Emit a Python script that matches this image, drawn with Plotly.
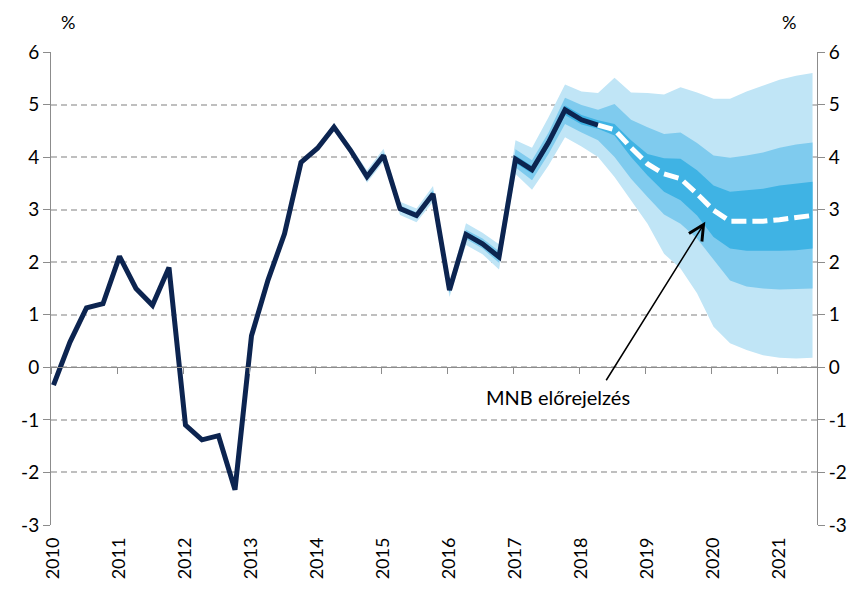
import plotly.graph_objects as go

# ---------------- data ----------------
years = ["2010", "2011", "2012", "2013", "2014", "2015",
         "2016", "2017", "2018", "2019", "2020", "2021"]
y_ticks = [-3, -2, -1, 0, 1, 2, 3, 4, 5, 6]
y_tick_text = ["-3", "-2", "-1", "0", "1", "2", "3", "4", "5", "6"]

# quarterly GDP growth (%), 2010Q1 .. 2018Q2
actual = [-0.34, 0.48, 1.13, 1.21, 2.11, 1.50, 1.18, 1.90,
          -1.10, -1.38, -1.30, -2.33, 0.60, 1.66, 2.54, 3.90,
          4.17, 4.57, 4.13, 3.63, 4.03, 3.02, 2.89, 3.30,
          1.47, 2.53, 2.35, 2.10, 3.96, 3.76, 4.28, 4.90,
          4.71, 4.61]

# MNB forecast (central path), 2018Q2 .. 2021Q3
forecast = [4.61, 4.52, 4.18, 3.87, 3.68, 3.59, 3.30, 2.99,
            2.78, 2.78, 2.78, 2.81, 2.85, 2.89]

# fan chart bands, 2014Q1 .. 2021Q3
light_up = [4.21, 4.65, 4.21, 3.75, 4.16, 3.15, 3.02, 3.45, 1.60, 2.74, 2.56, 2.34,
            4.32, 4.18, 4.76, 5.38, 5.25, 5.22, 5.51, 5.23, 5.22, 5.19, 5.33, 5.23,
            5.11, 5.11, 5.25, 5.36, 5.47, 5.55, 5.60]
light_lo = [4.13, 4.50, 4.06, 3.51, 3.91, 2.90, 2.76, 3.15, 1.34, 2.33, 2.15, 1.86,
            3.68, 3.38, 3.84, 4.38, 4.20, 4.00, 3.62, 3.18, 2.73, 2.16, 1.88, 1.41,
            0.77, 0.46, 0.33, 0.23, 0.18, 0.17, 0.18]
mid_up = [4.19, 4.60, 4.16, 3.68, 4.09, 3.08, 2.95, 3.37, 1.53, 2.62, 2.45, 2.21,
          4.15, 3.94, 4.47, 5.13, 4.99, 4.90, 5.01, 4.71, 4.57, 4.44, 4.47, 4.27,
          4.03, 3.99, 4.03, 4.09, 4.18, 4.24, 4.28]
mid_lo = [4.15, 4.54, 4.10, 3.58, 3.98, 2.97, 2.83, 3.23, 1.41, 2.44, 2.26, 1.99,
          3.80, 3.56, 4.06, 4.63, 4.47, 4.32, 4.00, 3.59, 3.24, 2.91, 2.73, 2.45,
          2.04, 1.65, 1.54, 1.50, 1.48, 1.49, 1.50]
dark_up = [4.18, 4.59, 4.15, 3.66, 4.06, 3.05, 2.92, 3.34, 1.50, 2.58, 2.40, 2.16,
           4.03, 3.83, 4.36, 4.98, 4.80, 4.70, 4.63, 4.32, 4.06, 3.98, 3.97, 3.75,
           3.46, 3.34, 3.37, 3.40, 3.46, 3.49, 3.53]
dark_lo = [4.16, 4.55, 4.11, 3.60, 4.00, 2.99, 2.86, 3.26, 1.44, 2.48, 2.30, 2.04,
           3.89, 3.69, 4.20, 4.80, 4.62, 4.54, 4.41, 4.00, 3.65, 3.34, 3.18, 2.89,
           2.48, 2.26, 2.22, 2.22, 2.22, 2.23, 2.26]

band_start = 16          # index of 2014Q1
fc_start = len(actual) - 1

# ---------------- figure ----------------
FONT = "Lato, Calibri, Carlito, 'Open Sans', sans-serif"
NAVY = "#0C2450"
C_LIGHT = "#C0E5F6"
C_MID = "#7FCBEE"
C_DARK = "#3FB3E4"
GRID = "#BFBFBF"
AX = "#8C8C8C"

fig = go.Figure()

bx = list(range(band_start, band_start + len(light_up)))

def band(up, lo, color):
    fig.add_trace(go.Scatter(
        x=bx + bx[::-1], y=up + lo[::-1], fill="toself", fillcolor=color,
        line=dict(width=0, color=color), mode="lines", hoverinfo="skip",
        showlegend=False))

band(light_up, light_lo, C_LIGHT)
band(mid_up, mid_lo, C_MID)
band(dark_up, dark_lo, C_DARK)

fig.add_trace(go.Scatter(
    x=list(range(len(actual))), y=actual, mode="lines",
    line=dict(color=NAVY, width=5), showlegend=False))

fig.add_trace(go.Scatter(
    x=list(range(fc_start, fc_start + len(forecast))), y=forecast, mode="lines",
    line=dict(color="white", width=5, dash="15px,6px"), showlegend=False))

# invisible trace on right axis so it renders
fig.add_trace(go.Scatter(x=[0], y=[0], yaxis="y2", mode="markers",
                         marker=dict(opacity=0), hoverinfo="skip", showlegend=False))
# invisible trace on the zero-line axis
fig.add_trace(go.Scatter(x=[0], y=[0], xaxis="x2", mode="markers",
                         marker=dict(opacity=0), hoverinfo="skip", showlegend=False))

xr = [-0.15, 46.27]
label_pos = [4 * k for k in range(len(years))]
tick_pos = [4 * k - 0.15 for k in range(len(years))] + [46.27]

# page body has an 8px default margin; size the figure to compensate
fig.update_layout(
    template="none",
    width=850, height=582,
    margin=dict(l=43, r=41, t=44, b=65, autoexpand=False),
    paper_bgcolor="white", plot_bgcolor="white",
    font=dict(family=FONT, size=18, color="black"),
    xaxis=dict(range=xr, tickvals=label_pos, ticktext=years, tickangle=-90,
               showgrid=False, zeroline=False, showline=False, ticks="",
               automargin=False, ticklabelstandoff=8, tickfont=dict(size=18)),
    xaxis2=dict(range=xr, overlaying="x", anchor="free", position=1/3,
                side="bottom", tickvals=tick_pos, ticks="outside", ticklen=6,
                tickcolor=AX, showticklabels=False, showline=True,
                linecolor=AX, linewidth=1, showgrid=False, zeroline=False,
                automargin=False),
    yaxis=dict(range=[-3, 6], tickvals=y_ticks, ticktext=y_tick_text,
               showgrid=True, gridcolor=GRID, griddash="6px,4px", gridwidth=1.5,
               zeroline=False, showline=True, linecolor=AX, ticks="outside",
               ticklen=7, tickcolor=AX, tickfont=dict(size=19), automargin=False),
    yaxis2=dict(range=[-3, 6], tickvals=y_ticks, ticktext=y_tick_text,
                overlaying="y", side="right", showgrid=False, zeroline=False,
                showline=True, linecolor=AX, ticks="outside", ticklen=7,
                tickcolor=AX, tickfont=dict(size=19), automargin=False),
)

fig.add_annotation(xref="paper", yref="paper", x=0.022, y=1.063, text="%",
                   xanchor="center", yanchor="middle",
                   showarrow=False, font=dict(size=18))
fig.add_annotation(xref="paper", yref="paper", x=0.963, y=1.063, text="%",
                   xanchor="center", yanchor="middle",
                   showarrow=False, font=dict(size=18))

fig.add_annotation(x=30.6, y=-0.57, text="MNB előrejelzés", showarrow=False,
                   xanchor="center", yanchor="middle", font=dict(size=20))
fig.add_annotation(x=39.5, y=2.77, text="", showarrow=True, axref="pixel",
                   ax=-100, ay=160, arrowhead=5, arrowsize=2.0, arrowwidth=1.5,
                   arrowcolor="black")

fig.write_html("out.html")
